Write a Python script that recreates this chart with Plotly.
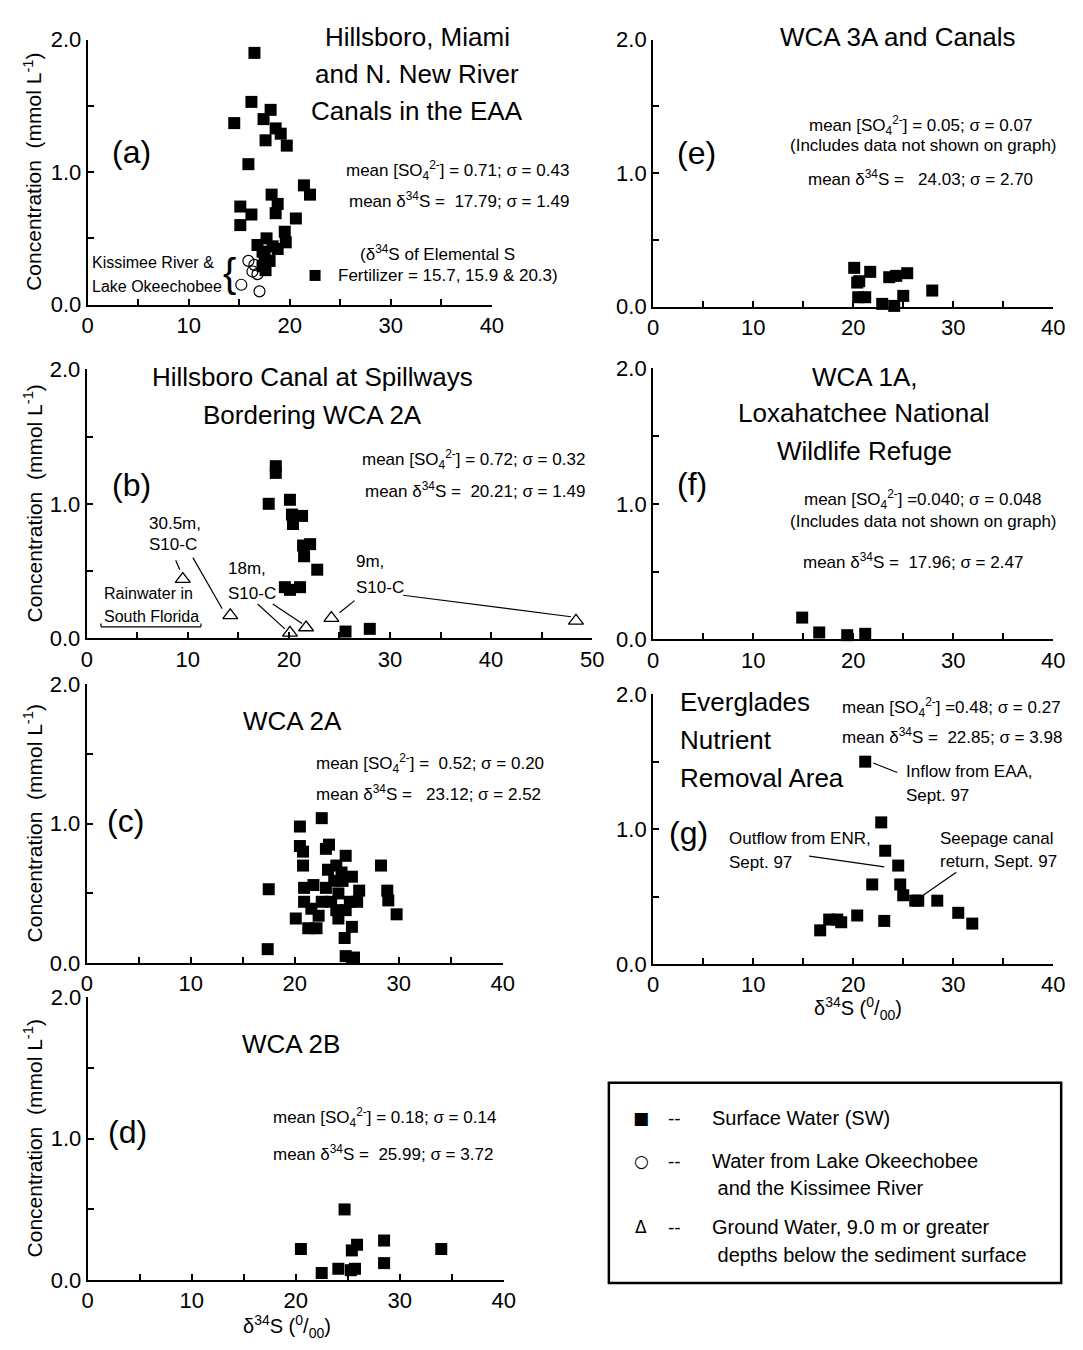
import plotly.graph_objects as go

FONT = "Liberation Sans, Arial, sans-serif"

# ---------------- data ----------------
a_sw_x = [16.5, 16.2, 18.1, 14.5, 17.4, 18.6, 19.1, 17.6, 19.7, 15.9, 21.4, 22.0, 18.2, 18.8, 15.1,
          18.6, 16.2, 20.6, 15.1, 19.5, 17.7, 19.6, 16.8, 17.3, 18.8, 18.0, 17.3, 17.6, 17.5, 18.3]
a_sw_y = [1.90, 1.53, 1.47, 1.37, 1.40, 1.33, 1.29, 1.24, 1.20, 1.06, 0.90, 0.83, 0.83, 0.76, 0.74,
          0.69, 0.68, 0.65, 0.60, 0.55, 0.50, 0.47, 0.45, 0.40, 0.42, 0.33, 0.29, 0.26, 0.37, 0.44]
a_lk_x = [15.9, 16.5, 16.3, 16.8, 15.2, 17.0]
a_lk_y = [0.33, 0.30, 0.25, 0.23, 0.15, 0.10]
a_key_x = [22.5]
a_key_y = [0.22]

b_sw_x = [18.7, 18.7, 18.0, 20.1, 20.3, 21.3, 20.4, 21.4, 22.1, 21.5, 22.8, 19.6, 20.1, 21.1, 25.6, 28.0]
b_sw_y = [1.28, 1.23, 1.00, 1.03, 0.92, 0.91, 0.85, 0.69, 0.70, 0.61, 0.51, 0.38, 0.36, 0.38, 0.05, 0.07]
b_gw_x = [9.5, 14.2, 20.1, 21.7, 24.2, 48.4]
b_gw_y = [0.44, 0.17, 0.04, 0.08, 0.15, 0.13]

c_sw_x = [17.5, 17.4, 20.5, 20.5, 20.8, 20.8, 22.6, 23.3, 23.0, 24.9, 28.3, 28.9, 29.0, 29.8, 25.5,
          26.2, 26.0, 25.5, 24.8, 24.9, 25.7, 20.1, 21.3, 22.1, 20.9, 21.8, 20.9, 21.6, 22.3, 22.6,
          23.0, 23.2, 24.0, 23.8, 24.2, 24.0, 24.2, 24.9, 24.6, 24.5, 25.3, 23.5]
c_sw_y = [0.53, 0.10, 0.98, 0.84, 0.80, 0.70, 1.04, 0.85, 0.82, 0.77, 0.70, 0.52, 0.45, 0.35, 0.62,
          0.52, 0.44, 0.26, 0.18, 0.05, 0.04, 0.32, 0.25, 0.25, 0.54, 0.56, 0.44, 0.39, 0.34, 0.44,
          0.54, 0.67, 0.70, 0.59, 0.50, 0.38, 0.32, 0.38, 0.59, 0.65, 0.44, 0.44]

d_sw_x = [20.5, 22.5, 24.1, 24.7, 25.4, 25.9, 25.3, 25.7, 28.5, 28.5, 34.0]
d_sw_y = [0.22, 0.05, 0.08, 0.50, 0.21, 0.25, 0.07, 0.08, 0.28, 0.12, 0.22]

e_sw_x = [20.1, 20.4, 20.6, 21.7, 20.5, 21.2, 22.9, 23.6, 24.3, 25.4, 25.0, 24.1, 27.9]
e_sw_y = [0.29, 0.18, 0.19, 0.26, 0.07, 0.07, 0.02, 0.22, 0.23, 0.25, 0.08, 0.005, 0.12]

f_sw_x = [14.9, 16.6, 19.4, 21.2]
f_sw_y = [0.16, 0.05, 0.03, 0.04]

g_sw_x = [21.2, 22.8, 23.2, 24.5, 21.9, 24.7, 25.0, 26.2, 26.5, 28.4, 20.4, 23.1, 16.7, 17.6, 18.4,
          18.8, 30.5, 31.9]
g_sw_y = [1.50, 1.05, 0.84, 0.73, 0.59, 0.59, 0.51, 0.47, 0.47, 0.47, 0.36, 0.32, 0.25, 0.33, 0.33,
          0.31, 0.38, 0.30]

y_ticks = [0, 0.5, 1.0, 1.5, 2.0]
y_labels = ["0.0", "", "1.0", "", "2.0"]
x40_ticks = [0, 5, 10, 15, 20, 25, 30, 35, 40]
x40_labels = ["0", "", "10", "", "20", "", "30", "", "40"]
x50_ticks = [0, 5, 10, 15, 20, 25, 30, 35, 40, 45, 50]
x50_labels = ["0", "", "10", "", "20", "", "30", "", "40", "", "50"]

# page offset of the plot div (browser default body margin)
OFF = 8
W, H = 1083 - OFF, 1350 - OFF


def PX(px):
    return (px - OFF) / W


def PY(py):
    return 1 - (py - OFF) / H


# panel pixel geometry (page pixels): x of 0 / x of max, y of 2.0 / y of 0.0
panels = {
    "a": dict(n=1, px=(83, 494), py=(28, 298), xr=40),
    "b": dict(n=2, px=(82, 596), py=(364, 638), xr=50),
    "c": dict(n=3, px=(82, 505), py=(685, 969), xr=40),
    "d": dict(n=4, px=(83, 506), py=(1004, 1292), xr=40),
    "e": dict(n=5, px=(658, 1065), py=(28, 300), xr=40),
    "f": dict(n=6, px=(658, 1065), py=(363, 639), xr=40),
    "g": dict(n=7, px=(658, 1065), py=(695, 970), xr=40),
}
by_n = {p["n"]: p for p in panels.values()}

fig = go.Figure()
layout = dict(width=W, height=H, margin=dict(l=0, r=0, t=0, b=0, pad=0), autosize=False,
              paper_bgcolor="white", plot_bgcolor="white", showlegend=False,
              font=dict(family=FONT, color="black"))


def ax_names(n):
    return ("x" if n == 1 else f"x{n}", "y" if n == 1 else f"y{n}")


for key, p in panels.items():
    n = p["n"]
    xs = "xaxis" if n == 1 else f"xaxis{n}"
    ys = "yaxis" if n == 1 else f"yaxis{n}"
    xn, yn = ax_names(n)
    common = dict(showline=True, linecolor="black", linewidth=2, ticks="inside", ticklen=6,
                  tickwidth=1.5, tickcolor="black", showgrid=False, zeroline=False,
                  tickfont=dict(size=22, family=FONT, color="black"), fixedrange=True)
    if p["xr"] == 50:
        tv, tt = x50_ticks, x50_labels
    else:
        tv, tt = x40_ticks, x40_labels
    layout[xs] = dict(domain=[PX(p["px"][0]), PX(p["px"][1])], range=[0, p["xr"]], anchor=yn,
                      tickmode="array", tickvals=tv, ticktext=tt, **common)
    layout[ys] = dict(domain=[PY(p["py"][1]), PY(p["py"][0])], range=[0, 2], anchor=xn,
                      tickmode="array", tickvals=y_ticks, ticktext=y_labels, **common)


def sq(xv, yv, n, size=12):
    xn, yn = ax_names(n)
    fig.add_trace(go.Scatter(x=xv, y=yv, mode="markers", xaxis=xn, yaxis=yn, cliponaxis=False,
                             marker=dict(symbol="square", size=size, color="black",
                                         line=dict(width=0))))


def circ(xv, yv, n):
    xn, yn = ax_names(n)
    fig.add_trace(go.Scatter(x=xv, y=yv, mode="markers", xaxis=xn, yaxis=yn, cliponaxis=False,
                             marker=dict(symbol="circle-open", size=11, color="black",
                                         line=dict(width=1.2, color="black"))))


def tri(xv, yv, n):
    xn, yn = ax_names(n)
    fig.add_trace(go.Scatter(x=xv, y=yv, mode="markers", xaxis=xn, yaxis=yn, cliponaxis=False,
                             marker=dict(symbol="triangle-up-open", size=13, color="black",
                                         line=dict(width=1.3, color="black"))))


sq(a_sw_x, a_sw_y, 1)
circ(a_lk_x, a_lk_y, 1)
sq(a_key_x, a_key_y, 1, size=11)
sq(b_sw_x, b_sw_y, 2)
tri(b_gw_x, b_gw_y, 2)
sq(c_sw_x, c_sw_y, 3)
sq(d_sw_x, d_sw_y, 4)
sq(e_sw_x, e_sw_y, 5)
sq(f_sw_x, f_sw_y, 6)
sq(g_sw_x, g_sw_y, 7)

anns = []
shapes = []


def to_paper(n, x, y):
    p = by_n[n]
    x0, x1 = p["px"]
    yt, yb = p["py"]
    px = x0 + x / p["xr"] * (x1 - x0)
    py = yb - y / 2.0 * (yb - yt)
    return PX(px), PY(py)


def txt(n, x, y, s, size=17, xanchor="center", yanchor="middle", align="center"):
    xp, yp = to_paper(n, x, y)
    anns.append(dict(x=xp, y=yp, xref="paper", yref="paper", text=s, showarrow=False,
                     xanchor=xanchor, yanchor=yanchor, align=align,
                     font=dict(size=size, family=FONT, color="black")))


def seg(n, x0, y0, x1, y1, w=1.2):
    xn, yn = ax_names(n)
    shapes.append(dict(type="line", xref=xn, yref=yn, x0=x0, y0=y0, x1=x1, y1=y1,
                       line=dict(color="black", width=w)))


SO4 = "mean [SO<sub>4</sub><sup>2-</sup>]"
D34 = "mean δ<sup>34</sup>S"
TS = 26
LS = 32

# (a)
txt(1, 32.6, 2.02, "Hillsboro, Miami", TS)
txt(1, 32.6, 1.74, "and N. New River", TS)
txt(1, 32.6, 1.46, "Canals in the EAA", TS)
txt(1, 4.3, 1.15, "(a)", LS)
txt(1, 47.8, 1.01, SO4 + " = 0.71; σ = 0.43", 17, xanchor="right")
txt(1, 47.8, 0.79, D34 + " =  17.79; σ = 1.49", 17, xanchor="right")
txt(1, 34.6, 0.39, "(δ<sup>34</sup>S of Elemental S", 17)
txt(1, 24.6, 0.22, "Fertilizer = 15.7, 15.9 & 20.3)", 17, xanchor="left")
txt(1, 12.7, 0.32, "Kissimee River &", 16, xanchor="right")
txt(1, 13.5, 0.14, "Lake Okeechobee", 16, xanchor="right")
txt(1, 14.0, 0.24, "{", 40)

# (b)
txt(2, 22.3, 1.94, "Hillsboro Canal at Spillways", TS)
txt(2, 22.3, 1.66, "Bordering WCA 2A", TS)
txt(2, 4.4, 1.14, "(b)", LS)
txt(2, 49.5, 1.33, SO4 + " = 0.72; σ = 0.32", 17, xanchor="right")
txt(2, 49.5, 1.10, D34 + " =  20.21; σ = 1.49", 17, xanchor="right")
txt(2, 6.0, 0.85, "30.5m,", 17, xanchor="left")
txt(2, 6.0, 0.70, "S10-C", 17, xanchor="left")
txt(2, 13.8, 0.52, "18m,", 17, xanchor="left")
txt(2, 13.8, 0.33, "S10-C", 17, xanchor="left")
txt(2, 26.4, 0.57, "9m,", 17, xanchor="left")
txt(2, 26.4, 0.38, "S10-C", 17, xanchor="left")
txt(2, 1.5, 0.33, "Rainwater in", 16, xanchor="left")
txt(2, 1.5, 0.16, "South Florida", 16, xanchor="left")
seg(2, 8.8, 0.58, 9.2, 0.51)
seg(2, 10.5, 0.60, 13.4, 0.22)
seg(2, 16.9, 0.255, 19.6, 0.07)
seg(2, 18.4, 0.255, 21.3, 0.11)
seg(2, 26.5, 0.28, 25.0, 0.19)
seg(2, 31.3, 0.32, 47.9, 0.16)
seg(2, 1.4, 0.085, 11.3, 0.085)
seg(2, 1.4, 0.085, 1.4, 0.11)
seg(2, 11.3, 0.085, 11.3, 0.11)

# (c)
txt(3, 19.8, 1.74, "WCA 2A", TS)
txt(3, 3.7, 1.02, "(c)", LS)
txt(3, 21.9, 1.43, SO4 + " =  0.52; σ = 0.20", 17, xanchor="left")
txt(3, 21.9, 1.22, D34 + " =   23.12; σ = 2.52", 17, xanchor="left")

# (d)
txt(4, 19.5, 1.67, "WCA 2B", TS)
txt(4, 3.8, 1.05, "(d)", LS)
txt(4, 17.6, 1.15, SO4 + " = 0.18; σ = 0.14", 17, xanchor="left")
txt(4, 17.6, 0.90, D34 + " =  25.99; σ = 3.72", 17, xanchor="left")

# (e)
txt(5, 24.5, 2.02, "WCA 3A and Canals", TS)
txt(5, 4.3, 1.15, "(e)", LS)
txt(5, 26.7, 1.36, SO4 + " = 0.05; σ = 0.07", 17)
txt(5, 27.0, 1.21, "(Includes data not shown on graph)", 17)
txt(5, 26.7, 0.96, D34 + " =   24.03; σ = 2.70", 17)

# (f)
txt(6, 21.1, 1.94, "WCA 1A,", TS)
txt(6, 21.1, 1.67, "Loxahatchee National", TS)
txt(6, 21.1, 1.39, "Wildlife Refuge", TS)
txt(6, 3.9, 1.15, "(f)", LS)
txt(6, 27.0, 1.03, SO4 + " =0.040; σ = 0.048", 17)
txt(6, 27.0, 0.87, "(Includes data not shown on graph)", 17)
txt(6, 26.0, 0.58, D34 + " =  17.96; σ = 2.47", 17)

# (g)
txt(7, 2.5, 1.94, "Everglades", TS, xanchor="left")
txt(7, 2.5, 1.66, "Nutrient", TS, xanchor="left")
txt(7, 2.5, 1.38, "Removal Area", TS, xanchor="left")
txt(7, 3.5, 0.97, "(g)", LS)
txt(7, 18.7, 1.90, SO4 + " =0.48; σ = 0.27", 17, xanchor="left")
txt(7, 18.7, 1.69, D34 + " =  22.85; σ = 3.98", 17, xanchor="left")
txt(7, 25.1, 1.43, "Inflow from EAA,", 17, xanchor="left")
txt(7, 25.1, 1.25, "Sept. 97", 17, xanchor="left")
txt(7, 7.4, 0.93, "Outflow from ENR,", 17, xanchor="left")
txt(7, 7.4, 0.75, "Sept. 97", 17, xanchor="left")
txt(7, 28.5, 0.93, "Seepage canal", 17, xanchor="left")
txt(7, 28.5, 0.76, "return, Sept. 97", 17, xanchor="left")
seg(7, 22.0, 1.49, 24.4, 1.42)
seg(7, 15.6, 0.80, 23.1, 0.72)
seg(7, 30.3, 0.68, 27.0, 0.51)

# axis titles
ytitle = "Concentration  (mmol L<sup>-1</sup>)"
for key in ["a", "b", "c", "d"]:
    p = panels[key]
    yc = (p["py"][0] + p["py"][1]) / 2
    anns.append(dict(x=PX(27), y=PY(yc), xref="paper", yref="paper", text=ytitle, textangle=-90,
                     showarrow=False, xanchor="center", yanchor="middle",
                     font=dict(size=21, family=FONT, color="black")))
xtitle = "δ<sup>34</sup>S (<sup>0</sup>/<sub>00</sub>)"
for cx, cy in [(286, 1339), (866, 1015)]:
    anns.append(dict(x=PX(cx), y=PY(cy), xref="paper", yref="paper", text=xtitle,
                     showarrow=False, xanchor="center", yanchor="middle",
                     font=dict(size=20, family=FONT, color="black")))

# legend box
shapes.append(dict(type="rect", xref="paper", yref="paper", x0=PX(613), x1=PX(1073),
                   y0=PY(1295), y1=PY(1091), line=dict(color="black", width=2.5)))
leg_rows = [
    ("■", "Surface Water (SW)", 1127),
    ("○", "Water from Lake Okeechobee", 1171),
    (None, " and the Kissimee River", 1198),
    ("Δ", "Ground Water, 9.0 m or greater", 1238),
    (None, " depths below the sediment surface", 1266),
]
for sym, label, yp in leg_rows:
    if sym:
        anns.append(dict(x=PX(646), y=PY(yp), xref="paper", yref="paper", text=sym,
                         showarrow=False, xanchor="center", yanchor="middle",
                         font=dict(size=17, family="DejaVu Sans", color="black")))
        anns.append(dict(x=PX(680), y=PY(yp), xref="paper", yref="paper", text="--",
                         showarrow=False, xanchor="center", yanchor="middle",
                         font=dict(size=19, family=FONT, color="black")))
    anns.append(dict(x=PX(716), y=PY(yp), xref="paper", yref="paper", text=label,
                     showarrow=False, xanchor="left", yanchor="middle",
                     font=dict(size=20, family=FONT, color="black")))

layout["annotations"] = anns
layout["shapes"] = shapes
fig.update_layout(**layout)
fig.write_html("out.html")
